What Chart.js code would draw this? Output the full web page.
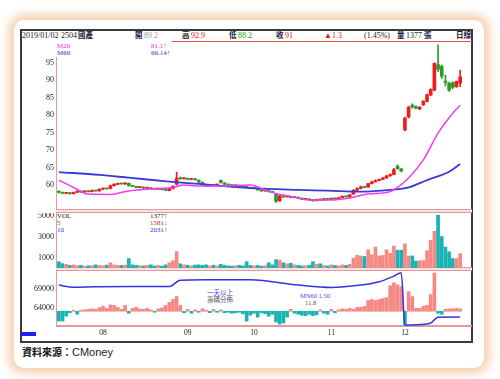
<!DOCTYPE html>
<html>
<head>
<meta charset="utf-8">
<script src="https://cdn.jsdelivr.net/npm/chart.js@4.4.1/dist/chart.umd.min.js"></script>
<style>
html, body { margin: 0; padding: 0; background: #fff; }
body { width: 500px; height: 379px; position: relative; overflow: hidden; font-family: 'Liberation Serif', 'Noto Sans CJK TC', serif; }
.card { position: absolute; left: 14px; top: 20px; width: 470px; height: 348px; border-radius: 10px; background: #fff; box-shadow: 0 0 8px 6px rgba(240, 182, 134, .6); }
.frame { position: absolute; left: 20px; top: 29px; width: 449px; height: 310px; border: 2px solid #3a3a3a; }
canvas { position: absolute; }
.t { position: absolute; font-size: 8px; line-height: 9px; white-space: nowrap; color: #222; }
.c { font-family: 'Noto Sans CJK TC', sans-serif; font-weight: bold; color: #1a1a40; font-size: 7.5px; }
.pk { position: absolute; background: #e49a9a; }
.band { position: absolute; left: 56px; width: 416px; height: 2px; background: #f8e2e2; border-top: 1px solid #e49a9a; border-bottom: 1px solid #e49a9a; }
</style>
</head>
<body>
<div class="card"></div>
<div class="frame"></div>

<!-- header -->
<div class="t" style="left:22px;top:31px">2019/01/02</div>
<div class="t" style="left:61px;top:31px">2504</div>
<div class="t c" style="left:78px;top:30px">國產</div>
<div class="t c" style="left:135px;top:30px">開</div>
<div class="t" style="left:144px;top:31px;color:#999">89.2</div>
<div class="t c" style="left:182px;top:30px">高</div>
<div class="t" style="left:191px;top:31px;color:#e02020">92.9</div>
<div class="t c" style="left:229px;top:30px">低</div>
<div class="t" style="left:238px;top:31px;color:#2a9a2a">88.2</div>
<div class="t c" style="left:276px;top:30px">收</div>
<div class="t" style="left:285px;top:31px;color:#e02020">91</div>
<div class="t" style="left:324px;top:31px;color:#e02020">▲1.3</div>
<div class="t" style="left:364px;top:31px">(1.45%)</div>
<div class="t c" style="left:397px;top:30px">量</div>
<div class="t" style="left:406px;top:31px">1377</div>
<div class="t c" style="left:424px;top:30px">張</div>
<div class="t c" style="left:456px;top:30px">日線</div>
<div class="pk" style="left:172px;top:41px;width:300px;height:1px;background:#e05050"></div>

<!-- price legend -->
<div class="t" style="left:57px;top:42px;color:#e030e0;font-size:7px">M20</div>
<div class="t" style="left:151px;top:42px;color:#e030e0;font-size:7px">81.1↑</div>
<div class="t" style="left:57px;top:49px;color:#3030d0;font-size:7px">M60</div>
<div class="t" style="left:151px;top:49px;color:#3030d0;font-size:7px">66.14↑</div>

<!-- volume legend -->
<div class="t" style="left:57px;top:212px;font-size:7px">VOL</div>
<div class="t" style="left:150px;top:212px;font-size:7px">1377↑</div>
<div class="t" style="left:57px;top:219px;color:#e02020;font-size:7px">5</div>
<div class="t" style="left:150px;top:219px;color:#e02020;font-size:7px">1581↓</div>
<div class="t" style="left:57px;top:226px;color:#3030d0;font-size:7px">10</div>
<div class="t" style="left:150px;top:226px;color:#3030d0;font-size:7px">2031↑</div>

<!-- panel annotations -->
<div class="t" style="left:207px;top:288px;color:#4848d8;font-size:6.5px">一天以上</div>
<div class="t" style="left:207px;top:295px;color:#555;font-size:6.5px">籌碼分佈</div>
<div class="t" style="left:300px;top:291px;color:#4848d8;font-size:6.5px">MN60 1.50</div>
<div class="t" style="left:305px;top:298px;color:#555;font-size:6.5px">11.8</div>

<!-- panel borders -->
<div class="pk" style="left:56px;top:57px;width:1px;height:153px"></div>
<div class="pk" style="left:56px;top:213px;width:1px;height:55px"></div>
<div class="pk" style="left:56px;top:271px;width:1px;height:55px"></div>
<div class="band" style="top:209px"></div>
<div class="band" style="top:267px"></div>
<div class="pk" style="left:56px;top:325px;width:416px;height:2px"></div>
<div class="pk" style="left:21px;top:332px;width:15px;height:4px;background:#2020f0"></div>

<canvas id="price" width="448" height="168" style="left:20px;top:42px"></canvas>
<canvas id="volume" width="448" height="55" style="left:20px;top:213px"></canvas>
<canvas id="chips" width="448" height="68" style="left:20px;top:272px"></canvas>

<div class="t" style="left:22px;top:346px;font-size:10px;line-height:12px"><span class="c" style="font-size:10px;color:#111">資料來源：</span><span style="font-family:'Liberation Sans',sans-serif;font-size:11px">CMoney</span></div>

<script>
// 日K (2019/07 ~ 2019/12)
const opens = [
  58.2,57.9,57.6,57.8,57.5,57.9,58.2,58.0,58.3,58.1,
  58.4,58.3,58.8,59.0,59.0,59.8,60.2,60.4,60.3,60.5,
  59.8,59.6,59.3,59.4,59.1,59.2,58.9,58.8,59.0,58.7,
  58.4,59.0,60.2,62.0,61.8,61.9,61.6,61.8,61.4,60.8,
  60.0,59.7,60.0,60.0,61.3,60.6,60.2,60.0,59.8,59.9,
  59.6,59.5,59.3,59.0,59.0,58.6,58.3,58.4,58.1,57.4,
  55.5,56.9,56.6,56.7,56.4,56.5,56.2,55.9,56.0,55.7,
  55.5,55.9,55.7,56.1,55.9,56.2,56.0,56.4,56.8,56.6,
  57.4,58.5,59.0,59.5,59.4,60.4,60.9,61.3,61.6,62.0,
  62.6,63.0,65.4,64.6,75.8,79.5,82.9,82.5,81.8,83.0,
  84.0,85.8,87.2,94.5,94.0,89.8,89.2,89.3,88.2,89.2
];
const closes = [
  57.9,57.6,57.8,57.5,57.9,58.2,58.0,58.3,58.1,58.4,
  58.3,58.8,59.0,58.9,59.8,60.2,60.4,60.3,60.5,59.8,
  59.6,59.3,59.4,59.1,59.2,58.9,58.8,59.0,58.7,58.5,
  59.0,59.7,62.0,61.8,61.9,61.6,61.8,61.5,60.8,60.0,
  59.6,60.0,59.9,60.2,60.7,60.2,60.0,59.8,59.9,59.6,
  59.5,59.3,59.0,59.1,58.6,58.3,58.4,58.1,57.9,55.3,
  56.9,56.6,56.7,56.4,56.5,56.2,55.9,56.0,55.7,55.5,
  55.9,55.7,56.1,55.9,56.2,56.0,56.4,56.8,56.6,57.2,
  58.5,59.0,59.5,59.3,60.4,60.9,61.3,61.6,62.0,62.6,
  63.0,64.4,64.7,64.0,79.2,82.3,82.4,82.0,82.3,84.0,
  85.9,87.4,94.9,93.2,91.2,89.4,87.2,88.0,89.7,91.0
];
const highs = [
  58.4,58.0,57.9,57.9,58.0,58.4,58.3,58.4,58.4,58.6,
  58.5,58.9,59.2,59.1,60.0,60.4,60.6,60.5,60.7,60.6,
  59.9,59.7,59.5,59.5,59.3,59.3,59.0,59.1,59.1,58.8,
  59.1,59.8,63.7,62.3,62.1,62.0,61.9,61.9,61.5,60.9,
  60.1,60.1,60.1,60.3,61.5,60.7,60.3,60.1,60.0,60.0,
  59.7,59.6,59.4,59.2,59.1,58.7,58.5,58.5,58.2,57.6,
  57.1,57.0,56.8,56.8,56.6,56.6,56.3,56.1,56.1,55.8,
  56.0,56.0,56.2,56.2,56.3,56.3,56.5,56.9,56.9,57.3,
  58.7,59.2,59.7,59.7,60.5,61.1,61.5,61.8,62.2,62.8,
  63.2,64.8,65.8,64.8,79.5,82.6,83.3,82.7,82.5,84.2,
  86.1,87.6,95.0,100.2,94.4,91.5,89.5,89.6,89.8,92.9
];
const lows = [
  57.7,57.5,57.5,57.4,57.4,57.8,57.9,57.9,58.0,58.0,
  58.2,58.2,58.7,58.8,58.9,59.7,60.1,60.2,60.2,59.7,
  59.5,59.2,59.2,59.0,59.0,58.8,58.7,58.7,58.6,58.4,
  58.3,58.9,60.0,61.6,61.7,61.5,61.5,61.4,60.7,59.9,
  59.5,59.6,59.8,59.9,60.5,60.1,59.9,59.7,59.7,59.5,
  59.4,59.2,58.9,58.9,58.5,58.2,58.2,58.0,57.8,55.0,
  55.3,56.4,56.5,56.3,56.3,56.1,55.8,55.8,55.6,55.3,
  55.4,55.6,55.6,55.8,55.8,55.9,55.9,56.3,56.5,56.5,
  57.3,58.4,58.9,59.2,59.3,60.3,60.8,61.2,61.5,61.9,
  62.5,62.9,64.5,63.8,75.5,79.2,82.0,81.8,81.6,82.8,
  83.8,85.6,87.0,92.5,90.5,88.4,86.8,87.6,88.0,88.2
];
const volumes = [
  600,420,350,250,300,220,260,180,200,230,
  300,260,200,280,500,300,260,250,280,900,
  300,260,220,200,260,300,200,250,180,300,
  500,700,1570,400,300,260,200,280,300,260,
  300,200,260,200,350,260,200,180,220,260,
  200,600,250,200,250,180,220,500,300,800,
  750,500,400,450,300,250,200,220,250,600,
  350,400,250,200,300,250,200,300,250,350,
  950,1200,1150,1100,1750,1250,2000,1150,1200,1750,
  1400,2100,1700,1700,2300,1150,1150,650,700,700,
  1650,2650,3500,5050,3000,2000,1550,900,900,1377
];
// 主力買賣超 (下方柱狀)
const netBuy = [
  -100,-100,-50,-15,10,-30,10,15,20,25,
  20,35,50,30,65,60,40,20,60,-20,
  30,40,25,20,30,15,-10,25,35,60,
  90,120,150,60,-15,20,-20,15,-10,25,
  10,-15,20,-10,15,-15,-10,-20,-15,-10,
  -25,-100,-40,-20,-60,-15,-25,-50,-30,-110,
  -130,-120,-60,20,-20,-30,-40,-45,-30,-45,
  -35,15,-20,-30,20,-15,15,25,20,30,
  20,40,40,50,110,120,110,120,130,140,
  260,290,270,250,-140,200,150,30,30,50,
  60,170,390,-20,-30,20,25,25,30,25
];
// 均線
const ma20Days = [0, 4, 8, 14, 19, 27, 31, 34, 38, 44, 52, 57, 63, 68, 74, 79, 84, 90, 92, 95, 99, 103, 107, 109];
const ma20 = [61.4, 59.3, 57.4, 57.3, 58.3, 59.0, 59.3, 60.0, 59.7, 59.7, 60.0, 58.1, 56.7, 55.7, 55.7, 56.3, 57.4, 58.1, 59.3, 62.0, 67.2, 74.9, 80.6, 82.9];
const ma60Days = [0, 11, 19, 30, 38, 52, 65, 73, 82, 90, 95, 100, 106, 109];
const ma60 = [63.7, 62.9, 62.1, 61.0, 60.3, 59.1, 58.6, 58.4, 58.1, 58.6, 59.3, 61.4, 63.8, 66.0];
// 籌碼線
const holdDays = [0, 4, 10, 20, 30, 33, 40, 52, 65, 74, 82, 87, 91, 93, 94, 100, 101, 103, 109];
const holdings = [70050, 69500, 69600, 69650, 69700, 71300, 71450, 71450, 70050, 69400, 70050, 70930, 72420, 73300, 59500, 59800, 60000, 61600, 61650];

const priceTicks = [60, 65, 70, 75, 80, 85, 90, 95];
const volTicks = [1000, 3000, 5000];
const holdTicks = [64000, 69000];
const monthDays = [12, 35, 53, 74, 94];
const monthLabels = ['08', '09', '10', '11', '12'];

const days = closes.map((c, i) => i);
const upColor = '#f01c1c', downColor = '#2b9a2b';
const barUp = '#f58a84', barDown = '#1ab3b3';
const candleColors = days.map(i => closes[i] >= opens[i] ? upColor : downColor);
const volColors = days.map(i => closes[i] >= opens[i] ? barUp : barDown);

Chart.defaults.font.family = "'Liberation Serif', serif";
Chart.defaults.font.size = 8;
Chart.defaults.color = '#222';

function fixY(s) { s.width = 37; s.paddingTop = 0; s.paddingBottom = 0; }
function setTicks(list) { return function (s) { s.ticks = list.map(v => ({ value: v })); }; }
function yAxis(min, max, list) {
  return {
    min: min, max: max, position: 'left',
    afterFit: fixY, afterBuildTicks: setTicks(list),
    grid: { display: false, drawTicks: false }, border: { display: false },
    ticks: { padding: 3, font: { size: 8 }, color: '#222', callback: v => String(v) }
  };
}
const hiddenX = { type: 'linear', min: -0.5, max: days.length - 0.5, offset: false, display: false };
const common = {
  responsive: false, animation: false, devicePixelRatio: 1,
  layout: { padding: { left: 0, right: 6, top: 0, bottom: 0 } },
  plugins: { legend: { display: false }, tooltip: { enabled: false } },
  elements: { point: { radius: 0 }, line: { borderWidth: 1.5 } }
};

function pts(xs, ys) { return xs.map((x, i) => ({ x: x, y: ys[i] })); }

// K線圖
new Chart(document.getElementById('price'), {
  type: 'bar',
  data: {
    datasets: [
      { type: 'line', data: pts(ma20Days, ma20), borderColor: '#f03cf0', cubicInterpolationMode: 'monotone' },
      { type: 'line', data: pts(ma60Days, ma60), borderColor: '#3a3ad8', borderWidth: 1.8, cubicInterpolationMode: 'monotone' },
      { data: days.map(i => ({ x: i, y: [opens[i], closes[i]] })), backgroundColor: candleColors, barThickness: 3, minBarLength: 1, grouped: false },
      { data: days.map(i => ({ x: i, y: [lows[i], highs[i]] })), backgroundColor: candleColors, barThickness: 1, grouped: false }
    ]
  },
  options: Object.assign({}, common, {
    scales: { x: hiddenX, y: yAxis(52.84, 101, priceTicks) }
  })
});

// 成交量
new Chart(document.getElementById('volume'), {
  type: 'bar',
  data: {
    datasets: [
      { data: days.map(i => ({ x: i, y: volumes[i] })), backgroundColor: volColors, barThickness: 3 }
    ]
  },
  options: Object.assign({}, common, {
    scales: { x: hiddenX, y: yAxis(0, 5250, volTicks) }
  })
});

// 籌碼
new Chart(document.getElementById('chips'), {
  type: 'bar',
  data: {
    datasets: [
      { type: 'line', data: pts(holdDays, holdings), borderColor: '#3434e0', yAxisID: 'y', cubicInterpolationMode: 'monotone' },
      { data: days.map(i => ({ x: i, y: netBuy[i] })), backgroundColor: netBuy.map(v => v >= 0 ? barUp : barDown), barThickness: 3, yAxisID: 'y2' }
    ]
  },
  options: Object.assign({}, common, {
    scales: {
      x: {
        type: 'linear', min: -0.5, max: days.length - 0.5, offset: false,
        afterBuildTicks: setTicks(monthDays),
        afterFit: function (s) { s.height = 14; s.paddingLeft = 0; s.paddingRight = 0; },
        grid: { display: false, drawTicks: false }, border: { display: false },
        ticks: { padding: 3, autoSkip: false, maxRotation: 0, font: { size: 7.5 },
          callback: function (v, i) { return monthLabels[i]; } }
      },
      y: yAxis(59260, 73500, holdTicks),
      y2: { min: -150, max: 400, display: false }
    }
  })
});
</script>
</body>
</html>
